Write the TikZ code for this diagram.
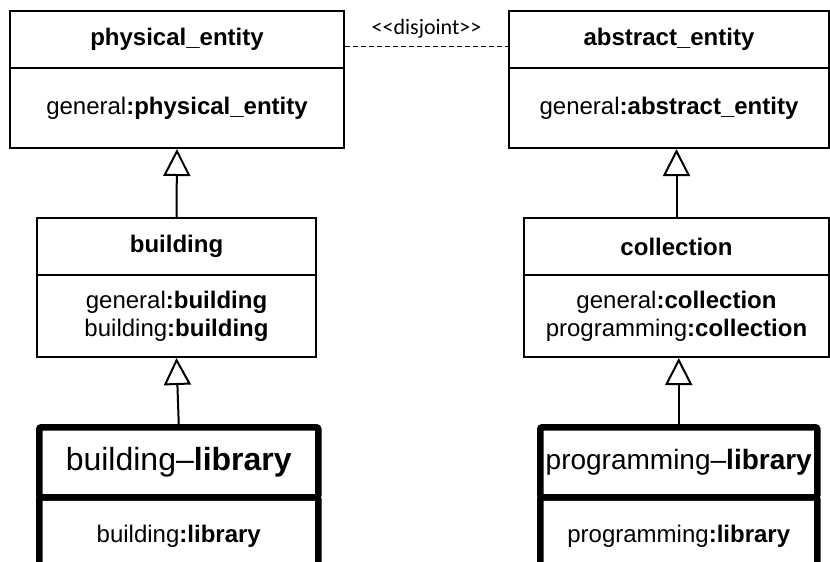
\documentclass[tikz,border=0pt]{standalone}
\usepackage{fontspec}
\setmainfont{Liberation Sans}
\newfontfamily\calibrifont{Carlito}
\usetikzlibrary{arrows.meta}
\begin{document}
\begin{tikzpicture}[x=1pt,y=-1pt,
  cls/.style={draw, line width=2pt, anchor=north west, inner sep=0pt, align=center,
    font=\fontsize{24}{28}\selectfont},
  lib/.style={draw, line width=6.5pt, rounded corners=2pt, anchor=north west, inner sep=0pt, align=center,
    font=\fontsize{24}{28}\selectfont},
  inh/.style={line width=2pt, -{Triangle[open, length=27pt, width=27pt, line width=2pt]}},
  disj/.style={line width=1pt, dash pattern=on 5pt off 3pt},
]
\useasboundingbox (0,0) rectangle (830,562);
\clip (0,0) rectangle (830,562);
% left column
\node[cls, minimum width=334pt, minimum height=57pt] (peT) at (9,10) {\textbf{physical\_entity}};
\node[cls, minimum width=334pt, minimum height=80pt] (peB) at (9,67) {general\textbf{:physical\_entity}};
\node[cls, minimum width=279pt, minimum height=57pt] (bT) at (36,217) {\textbf{building}};
\node[cls, minimum width=279pt, minimum height=82pt] (bB) at (36,274) {general\textbf{:building}\\building\textbf{:building}};
\node[lib, minimum width=279pt, minimum height=70pt, font=\fontsize{32}{36}\selectfont] (lT) at (36,424) {building–\textbf{library}};
\node[lib, minimum width=279pt, minimum height=80pt, text depth=6pt] (lB) at (36,494) {building\textbf{:library}};
% right column
\node[cls, minimum width=320pt, minimum height=57pt] (aeT) at (508,10) {\textbf{abstract\_entity}};
\node[cls, minimum width=320pt, minimum height=80pt] (aeB) at (508,67) {general\textbf{:abstract\_entity}};
\node[cls, minimum width=305pt, minimum height=57pt] (cT) at (523,217) {\textbf{collection}};
\node[cls, minimum width=305pt, minimum height=82pt] (cB) at (523,274) {general\textbf{:collection}\\programming\textbf{:collection}};
\node[lib, minimum width=277pt, minimum height=70pt, font=\fontsize{28}{32}\selectfont] (pT) at (537,424) {programming–\textbf{library}};
\node[lib, minimum width=277pt, minimum height=80pt, text depth=6pt] (pB) at (537,494) {programming\textbf{:library}};
% connectors
\draw[inh] (bT.north) -- (peB.south);
\draw[inh] (lT.north) -- (bB.south);
\draw[inh] (cT.north) -- (cT.north |- aeB.south);
\draw[inh] (pT.north) -- (pT.north |- cB.south);
\draw[disj] ([yshift=-7pt]peT.east) -- node[above=4pt, font=\calibrifont\fontsize{22}{26}\selectfont] (dj) {<\kern0pt<disjoint>\kern0pt>} ([yshift=-7pt]peT.east -| aeT.west);
\end{tikzpicture}
\end{document}
